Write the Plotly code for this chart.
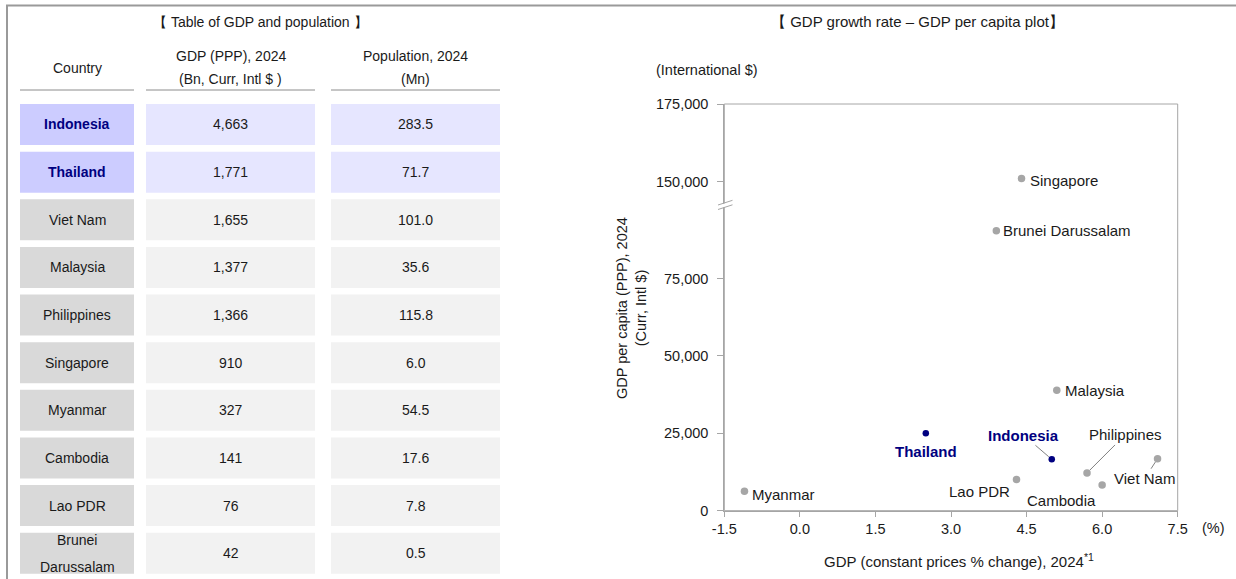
import plotly.graph_objects as go

W, H = 1236, 579

# ---- data -----------------------------------------------------------------
countries = ["Indonesia", "Thailand", "Viet Nam", "Malaysia", "Philippines",
             "Singapore", "Myanmar", "Cambodia", "Lao PDR", "Brunei Darussalam"]
gdp_ppp_bn = [4663, 1771, 1655, 1377, 1366, 910, 327, 141, 76, 42]
population_mn = [283.5, 71.7, 101.0, 35.6, 115.8, 6.0, 54.5, 17.6, 7.8, 0.5]
gdp_growth_pct = [5.0, 2.5, 7.1, 5.1, 5.7, 4.4, -1.1, 6.0, 4.3, 3.9]
gdp_per_capita = [16600, 25000, 16800, 38900, 12200, 151000, 6300, 8300, 10100, 90400]
highlight = ["Indonesia", "Thailand"]

x_ticks = [-1.5, 0.0, 1.5, 3.0, 4.5, 6.0, 7.5]
y_ticks_low = [0, 25000, 50000, 75000]
y_ticks_high = [150000, 175000]

# broken value axis: lower and upper segments
LOW_MAX = 98750
HIGH_MIN = 142500
Y_TOP = 175000

# ---- styles ---------------------------------------------------------------
FONT = "Liberation Sans, Arial, sans-serif"
TXT = "#1a1a1a"
NAVY = "#000080"
AX = "#a6a6a6"
GREY_DOT = "#a6a6a6"
CELL_NAME = "#d9d9d9"
CELL_VAL = "#f2f2f2"
CELL_NAME_HI = "#ccccff"
CELL_VAL_HI = "#e6e6ff"


def px(x):
    return x / W


def py(y):
    return 1 - y / H


def label(x, y, text, size=14, color=TXT, xanchor="center", **kw):
    """Text placed in pixel coordinates of the page."""
    return dict(xref="paper", yref="paper", x=px(x), y=py(y), text=text,
                showarrow=False, xanchor=xanchor, yanchor="middle",
                font=dict(size=size, color=color, family=FONT), **kw)


X_DOM = [px(724.3), px(1177.7)]
Y_BREAK = 205
Y_LOW_DOM = [py(510.7), py(Y_BREAK)]
Y_HIGH_DOM = [py(Y_BREAK), py(104)]

fig = go.Figure()
shapes = []
annotations = []

# ---- outer frame ----------------------------------------------------------
shapes.append(dict(type="line", xref="paper", yref="paper",
                   x0=px(6), x1=1, y0=py(5.5), y1=py(5.5),
                   line=dict(color="#9a9a9a", width=2)))
shapes.append(dict(type="line", xref="paper", yref="paper",
                   x0=px(7), x1=px(7), y0=py(5), y1=0,
                   line=dict(color="#9a9a9a", width=2)))

# ---- table ----------------------------------------------------------------
annotations.append(label(260, 22, "【 Table of GDP and population 】", size=14))

cols = [(20, 134), (146, 315), (331, 500)]
headers = [["Country"], ["GDP (PPP), 2024", "(Bn, Curr, Intl $ )"],
           ["Population, 2024", "(Mn)"]]
for (c0, c1), lines in zip(cols, headers):
    cx = (c0 + c1) / 2
    ys = [68] if len(lines) == 1 else [56.5, 79]
    for line_text, yy in zip(lines, ys):
        annotations.append(label(cx, yy, line_text))
    shapes.append(dict(type="line", xref="paper", yref="paper",
                       x0=px(c0), x1=px(c1), y0=py(90), y1=py(90),
                       line=dict(color="#8c8c8c", width=1)))

ROW_TOP, ROW_PITCH, ROW_H = 104, 47.63, 41
for i, name in enumerate(countries):
    top = ROW_TOP + i * ROW_PITCH
    bot = top + ROW_H
    cy = (top + bot) / 2
    hi = name in highlight
    fills = [CELL_NAME_HI if hi else CELL_NAME,
             CELL_VAL_HI if hi else CELL_VAL,
             CELL_VAL_HI if hi else CELL_VAL]
    for (c0, c1), fc in zip(cols, fills):
        shapes.append(dict(type="rect", xref="paper", yref="paper",
                           x0=px(c0), x1=px(c1), y0=py(bot), y1=py(top),
                           fillcolor=fc, line=dict(width=0), layer="below"))
    # country name, split onto two lines for the long name
    name_lines = name.split(" ") if name == "Brunei Darussalam" else [name]
    offs = [0] if len(name_lines) == 1 else [-13.5, 13.5]
    for nl, off in zip(name_lines, offs):
        annotations.append(label((cols[0][0] + cols[0][1]) / 2, cy + off,
                                 f"<b>{nl}</b>" if hi else nl,
                                 color=NAVY if hi else TXT))
    annotations.append(label((cols[1][0] + cols[1][1]) / 2, cy, f"{gdp_ppp_bn[i]:,}"))
    annotations.append(label((cols[2][0] + cols[2][1]) / 2, cy, f"{population_mn[i]:.1f}"))

# ---- scatter --------------------------------------------------------------
annotations.append(label(917, 22, "【 GDP growth rate – GDP per capita plot】", size=15))
annotations.append(label(654, 70, "(International $)", size=14.5, xanchor="left"))
annotations.append(label(631, 308, "GDP per capita (PPP), 2024<br>(Curr, Intl $)",
                         size=14.5, textangle=-90))
annotations.append(label(959, 560, "GDP (constant prices % change), 2024<sup>*1</sup>",
                         size=15))
annotations.append(label(1213, 528, "(%)", size=14.5))

for seg_axis, in_seg in (("y", lambda v: v <= LOW_MAX), ("y2", lambda v: v >= HIGH_MIN)):
    for hi in (False, True):
        xs = [g for n, g, v in zip(countries, gdp_growth_pct, gdp_per_capita)
              if in_seg(v) and (n in highlight) == hi]
        ys = [v for n, v in zip(countries, gdp_per_capita)
              if in_seg(v) and (n in highlight) == hi]
        if not xs:
            continue
        fig.add_trace(go.Scatter(
            x=xs, y=ys, mode="markers", xaxis="x", yaxis=seg_axis,
            marker=dict(size=6.5 if hi else 7.5, color=NAVY if hi else GREY_DOT),
            showlegend=False, hoverinfo="skip"))

# label placement per country: (xanchor, xshift, yshift, leader (ax, ay) or None)
label_pos = {
    "Singapore": ("left", 6, -1.5, None),
    "Brunei Darussalam": ("left", 5, 0, None),
    "Malaysia": ("left", 6, 0, None),
    "Myanmar": ("left", 6, -3, None),
    "Thailand": ("center", 0, -18.5, None),
    "Lao PDR": ("right", -4, -12.5, None),
    "Cambodia": ("right", -4, -15, None),
    "Indonesia": ("center", 0, 0, (-28, -24)),
    "Philippines": ("center", 0, 0, (38, -38)),
    "Viet Nam": ("center", 0, 0, (-13, 20)),
}
for name, gx, gv in zip(countries, gdp_growth_pct, gdp_per_capita):
    hi = name in highlight
    yref = "y" if gv <= LOW_MAX else "y2"
    xanchor, xs, ys, leader = label_pos[name]
    font = dict(size=15, color=NAVY if hi else TXT, family=FONT)
    text = f"<b>{name}</b>" if hi else name
    if leader is None:
        annotations.append(dict(xref="x", yref=yref, x=gx, y=gv, text=text,
                                showarrow=False, xanchor=xanchor, yanchor="middle",
                                xshift=xs, yshift=ys, font=font))
    else:
        annotations.append(dict(xref="x", yref=yref, x=gx, y=gv, text=text,
                                showarrow=True, arrowhead=0, arrowwidth=1,
                                arrowcolor="#808080", standoff=4,
                                ax=leader[0], ay=leader[1], font=font))

# plot frame
shapes.append(dict(type="rect", xref="paper", yref="paper",
                   x0=X_DOM[0], x1=X_DOM[1], y0=Y_LOW_DOM[0], y1=Y_HIGH_DOM[1],
                   line=dict(color=AX, width=1)))
# axis break marks
shapes.append(dict(type="path", xref="paper", yref="paper",
                   path=f"M {px(718.5)},{py(207.2)} L {px(732)},{py(202.8)}",
                   line=dict(color="white", width=3.5)))
for dy in (0, -4.5):
    shapes.append(dict(type="line", xref="paper", yref="paper",
                       x0=px(718), x1=px(732.5),
                       y0=py(209.5 + dy), y1=py(204.8 + dy),
                       line=dict(color=AX, width=1)))

axis_common = dict(showline=True, linecolor=AX, linewidth=1, ticks="outside",
                   tickcolor=AX, showgrid=False, zeroline=False,
                   automargin=False, fixedrange=True,
                   tickfont=dict(size=14.5, color=TXT, family=FONT))

fig.update_layout(
    width=W, height=H, template="none",
    margin=dict(l=0, r=0, t=0, b=0),
    paper_bgcolor="white", plot_bgcolor="white",
    font=dict(family=FONT, color=TXT),
    showlegend=False,
    xaxis=dict(domain=X_DOM, range=[-1.5, 7.5], tickvals=x_ticks,
               ticktext=[f"{t:.1f}" for t in x_ticks], ticklen=5,
               anchor="y", **axis_common),
    yaxis=dict(domain=Y_LOW_DOM, range=[0, LOW_MAX], tickvals=y_ticks_low,
               ticktext=[f"{t:,}" for t in y_ticks_low], ticklen=6,
               ticklabelstandoff=6, anchor="x", **axis_common),
    yaxis2=dict(domain=Y_HIGH_DOM, range=[HIGH_MIN, Y_TOP], tickvals=y_ticks_high,
                ticktext=[f"{t:,}" for t in y_ticks_high], ticklen=6,
                ticklabelstandoff=6, anchor="x", **axis_common),
    shapes=shapes,
    annotations=annotations,
)

fig.write_html("out.html")
